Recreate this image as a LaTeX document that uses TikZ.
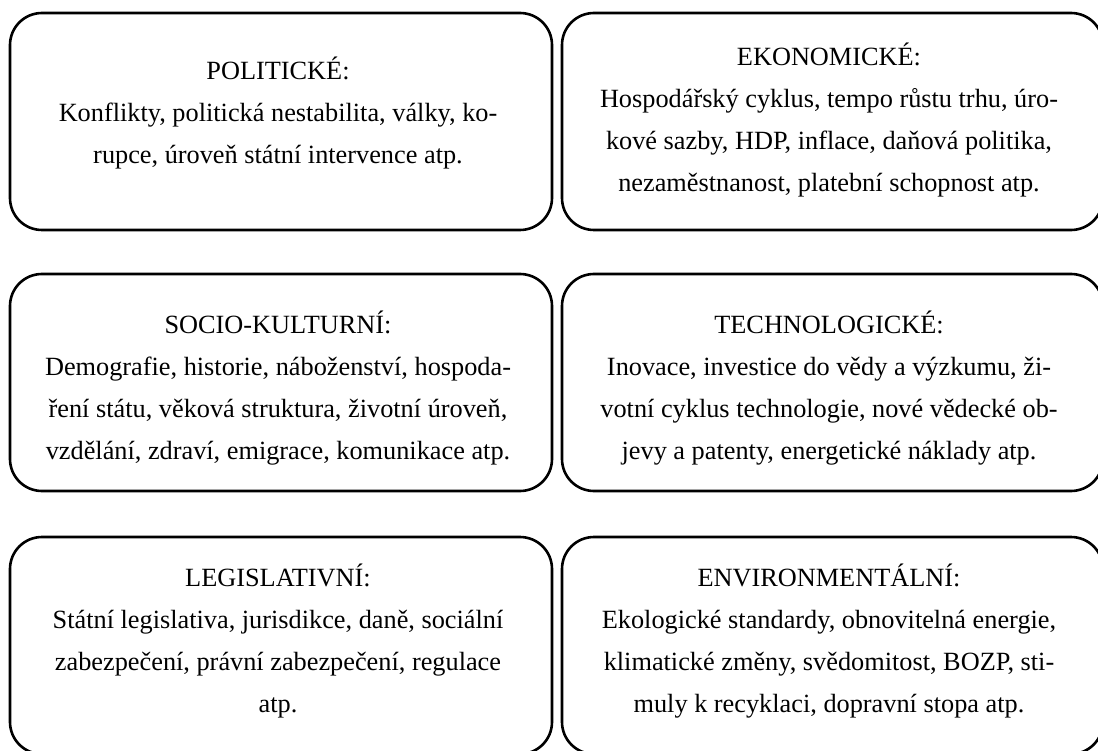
\documentclass[tikz,border=0pt]{standalone}
\usepackage{fontspec}
\setmainfont{Liberation Serif}
\begin{document}
\begin{tikzpicture}[x=1pt,y=-1pt,
  panel/.style={draw=black, line width=2.6pt, rounded corners=32pt},
  paneltext/.style={align=center, font=\fontsize{26.3}{42}\selectfont, inner sep=0pt}]
\useasboundingbox (0,0) rectangle (1098,751);
% frames, two columns by three rows
\draw[panel] (10,13) rectangle (552,230);
\draw[panel] (562,13) rectangle (1103,230);
\draw[panel] (10,274) rectangle (552,491);
\draw[panel] (562,274) rectangle (1103,491);
\draw[panel] (10,537) rectangle (552,754);
\draw[panel] (562,537) rectangle (1103,754);
% texts
\node[paneltext] (pol) at (278,113) {POLITICKÉ:\\
  Konflikty, politická nestabilita, války, ko-\\
  rupce, úroveň státní intervence atp.};
\node[paneltext] (eko) at (829,120) {EKONOMICKÉ:\\
  Hospodářský cyklus, tempo růstu trhu, úro-\\
  kové sazby, HDP, inflace, daňová politika,\\
  nezaměstnanost, platební schopnost atp.};
\node[paneltext] (soc) at (278,388) {SOCIO-KULTURNÍ:\\
  Demografie, historie, náboženství, hospoda-\\
  ření státu, věková struktura, životní úroveň,\\
  vzdělání, zdraví, emigrace, komunikace atp.};
\node[paneltext] (tech) at (829,388) {TECHNOLOGICKÉ:\\
  Inovace, investice do vědy a výzkumu, ži-\\
  votní cyklus technologie, nové vědecké ob-\\
  jevy a patenty, energetické náklady atp.};
\node[paneltext] (leg) at (278,641) {LEGISLATIVNÍ:\\
  Státní legislativa, jurisdikce, daně, sociální\\
  zabezpečení, právní zabezpečení, regulace\\
  atp.};
\node[paneltext] (env) at (829,641) {ENVIRONMENTÁLNÍ:\\
  Ekologické standardy, obnovitelná energie,\\
  klimatické změny, svědomitost, BOZP, sti-\\
  muly k recyklaci, dopravní stopa atp.};
\end{tikzpicture}
\end{document}
